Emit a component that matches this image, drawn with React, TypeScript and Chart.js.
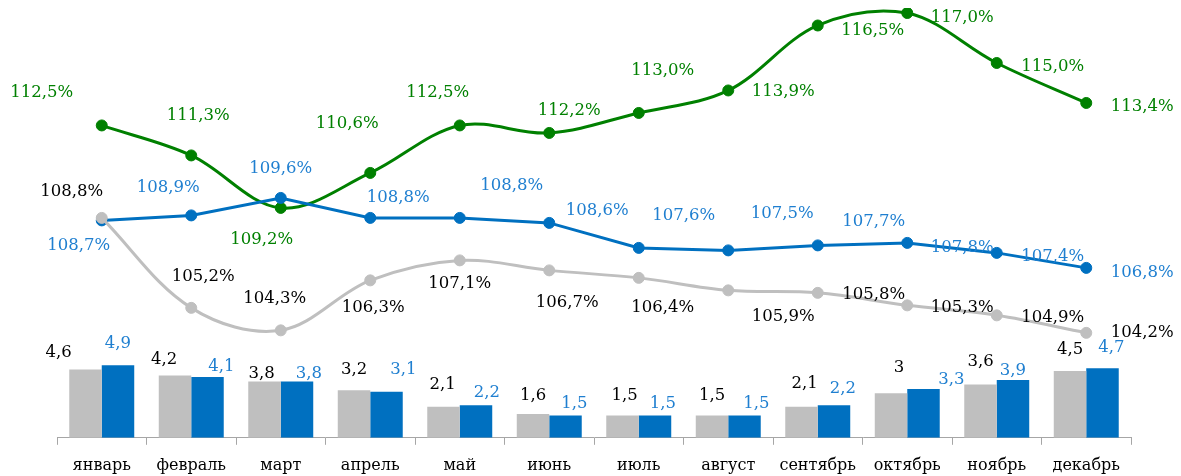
import React, { useEffect, useRef } from 'react';
import { Chart, registerables } from 'chart.js';

Chart.register(...registerables);

// ---------- data ----------
const months = ['январь', 'февраль', 'март', 'апрель', 'май', 'июнь', 'июль', 'август', 'сентябрь', 'октябрь', 'ноябрь', 'декабрь'];
const barsGrey = [4.6, 4.2, 3.8, 3.2, 2.1, 1.6, 1.5, 1.5, 2.1, 3, 3.6, 4.5];
const barsBlue = [4.9, 4.1, 3.8, 3.1, 2.2, 1.5, 1.5, 1.5, 2.2, 3.3, 3.9, 4.7];
const lineGreen = [112.5, 111.3, 109.2, 110.6, 112.5, 112.2, 113.0, 113.9, 116.5, 117.0, 115.0, 113.4];
const lineBlue = [108.7, 108.9, 109.6, 108.8, 108.8, 108.6, 107.6, 107.5, 107.7, 107.8, 107.4, 106.8];
const lineGrey = [108.8, 105.2, 104.3, 106.3, 107.1, 106.7, 106.4, 105.9, 105.8, 105.3, 104.9, 104.2];

// ---------- label placement (pixel offsets from mark to label centre) ----------
const offGreen = [[-60, -34], [7, -41], [-19, 30], [-23, -51], [-22, -34], [20, -24], [24, -44], [55, 0], [55, 3], [55, 3], [56, 2], [56, 2]];
const offBlue = [[-23, 24], [-23, -29], [0, -31], [28, -22], [52, -34], [48, -14], [45, -34], [54, -38], [56, -25], [55, 3], [56, 2], [56, 3]];
const offGrey = [[-30, -28], [12, -33], [-6, -33], [3, 26], [0, 22], [18, 31], [24, 28], [55, 25], [56, 0], [55, 1], [56, 1], [56, -2]];
const offBarGrey = [[-27, -19], [-11, -18], [-3, -9], [0, -22], [-1, -24], [0, -20], [2, -22], [0, -22], [3, -25], [8, -27], [0, -24], [0, -23]];
const offBarBlue = [[0, -23], [14, -12], [12, -9], [17, -24], [11, -14], [9, -14], [8, -14], [12, -14], [9, -18], [28, -11], [0, -11], [9, -22]];

const GREEN = '#008000';
const BLUE = '#0070C0';
const BLUE_TEXT = '#1f7fd0';
const GREY = '#BFBFBF';
const FONT = '"DejaVu Serif", serif';
const FS = 16.5;

const fmtPct = (v: number) => v.toFixed(1).replace('.', ',') + '%';
const fmtGen = (v: number) => String(v).replace('.', ',');

const labelCfg: Record<number, { color: string; fmt: (v: number) => string; off: number[][] }> = {
  0: { color: GREEN, fmt: fmtPct, off: offGreen },
  1: { color: BLUE_TEXT, fmt: fmtPct, off: offBlue },
  2: { color: '#000000', fmt: fmtPct, off: offGrey },
  3: { color: '#000000', fmt: fmtGen, off: offBarGrey },
  4: { color: BLUE_TEXT, fmt: fmtGen, off: offBarBlue },
};

const labelPlugin = {
  id: 'valueLabels',
  afterDatasetsDraw(chart: any) {
    const ctx = chart.ctx;
    ctx.save();
    ctx.textAlign = 'center';
    ctx.textBaseline = 'alphabetic';
    chart.data.datasets.forEach((ds: any, di: number) => {
      const cfg = labelCfg[di];
      if (!cfg) return;
      const meta = chart.getDatasetMeta(di);
      meta.data.forEach((el: any, i: number) => {
        const v = ds.data[i] as number;
        const [dx, dy] = cfg.off[i];
        ctx.font = `${FS}px ${FONT}`;
        ctx.fillStyle = cfg.color;
        ctx.fillText(cfg.fmt(v), el.x + dx, el.y + dy + FS * 0.3645);
      });
    });
    ctx.restore();
  },
};

export default function App() {
  const ref = useRef<HTMLCanvasElement | null>(null);

  useEffect(() => {
    if (!ref.current) return;
    const lineDs = (label: string, data: number[], color: string, tension: number, order: number) => ({
      type: 'line' as const,
      label,
      data,
      yAxisID: 'yL',
      borderColor: color,
      backgroundColor: color,
      borderWidth: 3,
      pointRadius: 5.5,
      pointBorderWidth: 1,
      pointBackgroundColor: color,
      pointBorderColor: color,
      tension,
      fill: false,
      order,
    });
    const chart = new Chart(ref.current, {
      type: 'bar',
      data: {
        labels: months,
        datasets: [
          lineDs('green', lineGreen, GREEN, 0.35, 3),
          lineDs('blue', lineBlue, BLUE, 0, 2),
          lineDs('grey', lineGrey, GREY, 0.35, 1),
          {
            type: 'bar' as const,
            label: 'barsGrey',
            data: barsGrey,
            yAxisID: 'yB',
            backgroundColor: GREY,
            categoryPercentage: 0.726,
            barPercentage: 1,
            order: 4,
          },
          {
            type: 'bar' as const,
            label: 'barsBlue',
            data: barsBlue,
            yAxisID: 'yB',
            backgroundColor: BLUE,
            categoryPercentage: 0.726,
            barPercentage: 1,
            order: 4,
          },
        ] as any,
      },
      options: {
        responsive: false,
        animation: false,
        layout: { padding: { left: 57, right: 50, top: 8, bottom: 1 } },
        plugins: {
          legend: { display: false },
          tooltip: { enabled: false },
        },
        scales: {
          x: {
            offset: true,
            grid: {
              display: true,
              drawOnChartArea: false,
              drawTicks: true,
              tickLength: 7,
              color: '#a6a6a6',
              offset: true,
            },
            border: { display: true, color: '#a6a6a6', width: 1 },
            ticks: {
              color: '#000000',
              font: { family: FONT, size: 16 },
              padding: 11,
              maxRotation: 0,
              autoSkip: false,
            },
          },
          yB: {
            display: false,
            min: 0,
            max: 29,
          },
          yL: {
            display: false,
            min: 100,
            max: 117.2,
          },
        },
      },
      plugins: [labelPlugin],
    });
    return () => chart.destroy();
  }, []);

  return (
    <div style={{ position: 'absolute', left: 0, top: 0, width: 1181, height: 476, overflow: 'hidden', background: '#ffffff' }}>
      <canvas ref={ref} width={1181} height={487} style={{ display: 'block' }} />
    </div>
  );
}
